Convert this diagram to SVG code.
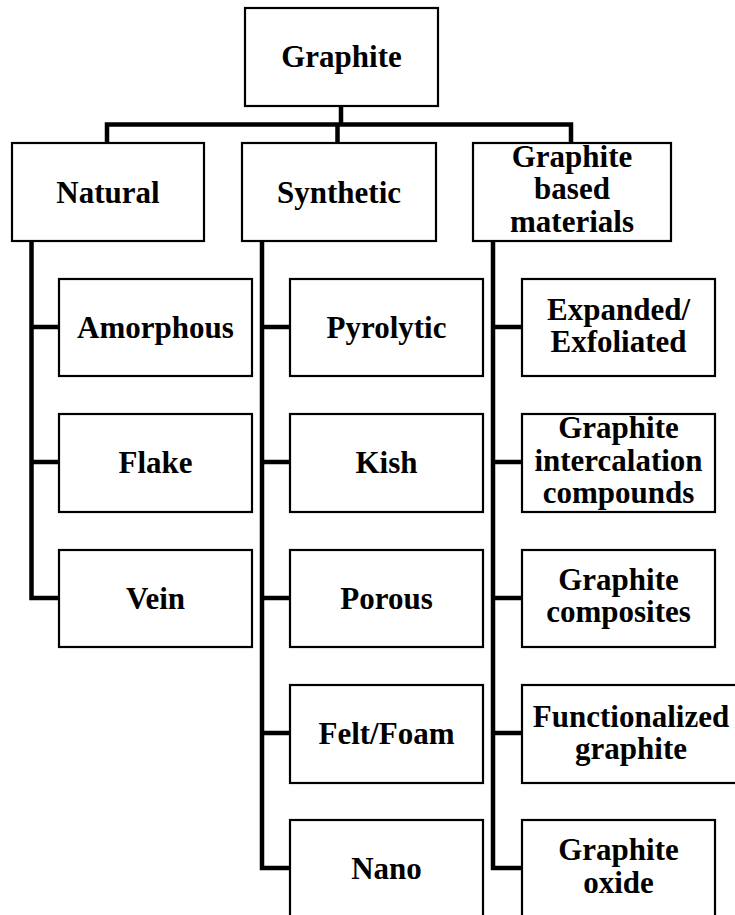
<svg xmlns="http://www.w3.org/2000/svg" width="735" height="915" viewBox="0 0 735 915">
<style>
.box{fill:#fff;stroke:#000;stroke-width:2.2}
.c{fill:none;stroke:#000;stroke-width:4.5;stroke-linejoin:miter;stroke-linecap:butt}
text{font-family:"Liberation Serif","Times New Roman",serif;font-weight:bold;font-size:31px;text-anchor:middle;fill:#000}
</style>
<rect width="735" height="915" fill="#fff"/>
<g id="connectors">
<path class="c" d="M341 106V124.5M107 143V124.5H571V143M337.5 124.5V143"/>
<path class="c" d="M31.5 241V598H59M31.5 327H59M31.5 462H59"/>
<path class="c" d="M262 241V868H290M262 327H290M262 462H290M262 598H290M262 733H290"/>
<path class="c" d="M493 241V868H522M493 327H522M493 462H522M493 598H522M493 733H522"/>
</g>
<g id="graphite"><rect class="box" x="245" y="8" width="193" height="98"/><text x="341.5" y="67">Graphite</text></g>
<g id="natural"><rect class="box" x="12" y="143" width="192" height="98"/><text x="108" y="203">Natural</text></g>
<g id="synthetic"><rect class="box" x="242" y="143" width="194" height="98"/><text x="339" y="203">Synthetic</text></g>
<g id="graphite-based"><rect class="box" x="473" y="143" width="198" height="98"/><text x="572" y="167">Graphite</text><text x="572" y="199">based</text><text x="572" y="232">materials</text></g>
<g id="amorphous"><rect class="box" x="59" y="279" width="193" height="97"/><text x="155.5" y="338">Amorphous</text></g>
<g id="flake"><rect class="box" x="59" y="414" width="193" height="98"/><text x="155.5" y="473">Flake</text></g>
<g id="vein"><rect class="box" x="59" y="550" width="193" height="97"/><text x="155.5" y="609">Vein</text></g>
<g id="pyrolytic"><rect class="box" x="290" y="279" width="193" height="97"/><text x="386.5" y="338">Pyrolytic</text></g>
<g id="kish"><rect class="box" x="290" y="414" width="193" height="98"/><text x="386.5" y="473">Kish</text></g>
<g id="porous"><rect class="box" x="290" y="550" width="193" height="97"/><text x="386.5" y="609">Porous</text></g>
<g id="felt-foam"><rect class="box" x="290" y="685" width="193" height="98"/><text x="386.5" y="744">Felt/Foam</text></g>
<g id="nano"><rect class="box" x="290" y="820" width="193" height="110"/><text x="386.5" y="879">Nano</text></g>
<g id="expanded"><rect class="box" x="522" y="279" width="193" height="97"/><text x="618.5" y="320">Expanded/</text><text x="618.5" y="352">Exfoliated</text></g>
<g id="gic"><rect class="box" x="522" y="414" width="193" height="98"/><text x="618.5" y="438">Graphite</text><text x="618.5" y="471">intercalation</text><text x="618.5" y="503">compounds</text></g>
<g id="composites"><rect class="box" x="522" y="550" width="193" height="97"/><text x="618.5" y="590">Graphite</text><text x="618.5" y="622">composites</text></g>
<g id="functionalized"><rect class="box" x="522" y="685" width="220" height="98"/><text x="631" y="727">Functionalized</text><text x="631" y="759">graphite</text></g>
<g id="oxide"><rect class="box" x="522" y="820" width="193" height="110"/><text x="618.5" y="860">Graphite</text><text x="618.5" y="893">oxide</text></g>
</svg>
